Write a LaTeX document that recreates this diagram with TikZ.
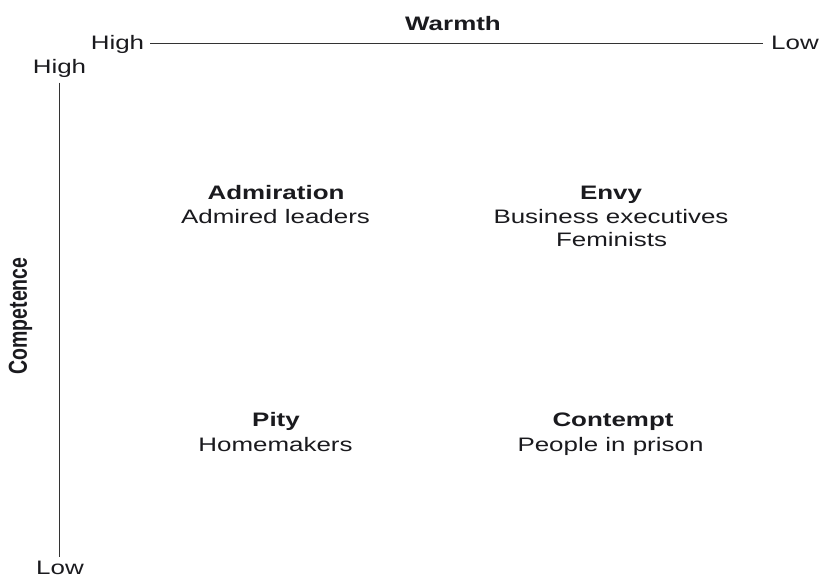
\documentclass[tikz,border=0pt]{standalone}
\usepackage{fontspec}
\setmainfont{Liberation Sans}[FakeStretch=1.33]
\newfontfamily\plainsans{Liberation Sans}
\definecolor{txt}{HTML}{1A1A1E}
\definecolor{axis}{HTML}{333333}
\begin{document}
\begin{tikzpicture}[x=1pt,y=-1pt,
  lbl/.style={inner sep=0pt,anchor=base,text=txt,font=\fontsize{19.5}{23}\selectfont},
  hdr/.style={lbl,font=\fontsize{19.5}{23}\selectfont\bfseries},
  axisline/.style={draw=axis,line width=1.5pt}]
\useasboundingbox (0,0) rectangle (821,577);
% titles and axis labels
\node[hdr] (warmth) at (453,30.7) {Warmth};
\node[lbl] (hiW) at (117.5,50) {High};
\node[lbl] (loW) at (795,50) {Low};
\node[lbl] (hiC) at (59.5,74) {High};
\node[lbl] (loC) at (60,574.5) {Low};
\node[inner sep=0pt,anchor=base,rotate=90,text=txt] (comp) at (27,316)
  {\scalebox{1}[1.33]{\plainsans\fontsize{19.5}{23}\selectfont\bfseries Competence}};
% axes
\coordinate (wA) at (150,43.3);
\coordinate (wB) at (763,43.3);
\coordinate (cA) at (59.5,82.7);
\coordinate (cB) at (59.5,557);
\draw[axisline] (wA) -- (wB);
\draw[axisline] (cA) -- (cB);
% quadrants
\node[hdr] (adm) at (276,199.3) {Admiration};
\node[lbl] (admL) at (275.5,223.3) {Admired leaders};
\node[hdr] (envy) at (611,199.3) {Envy};
\node[lbl] (envyA) at (611,223.3) {Business executives};
\node[lbl] (envyB) at (611.5,246.5) {Feminists};
\node[hdr] (pity) at (276,426.7) {Pity};
\node[lbl] (pityA) at (275.5,451.7) {Homemakers};
\node[hdr] (cont) at (613,426.7) {Contempt};
\node[lbl] (contA) at (610.5,451.7) {People in prison};
\end{tikzpicture}
\end{document}
